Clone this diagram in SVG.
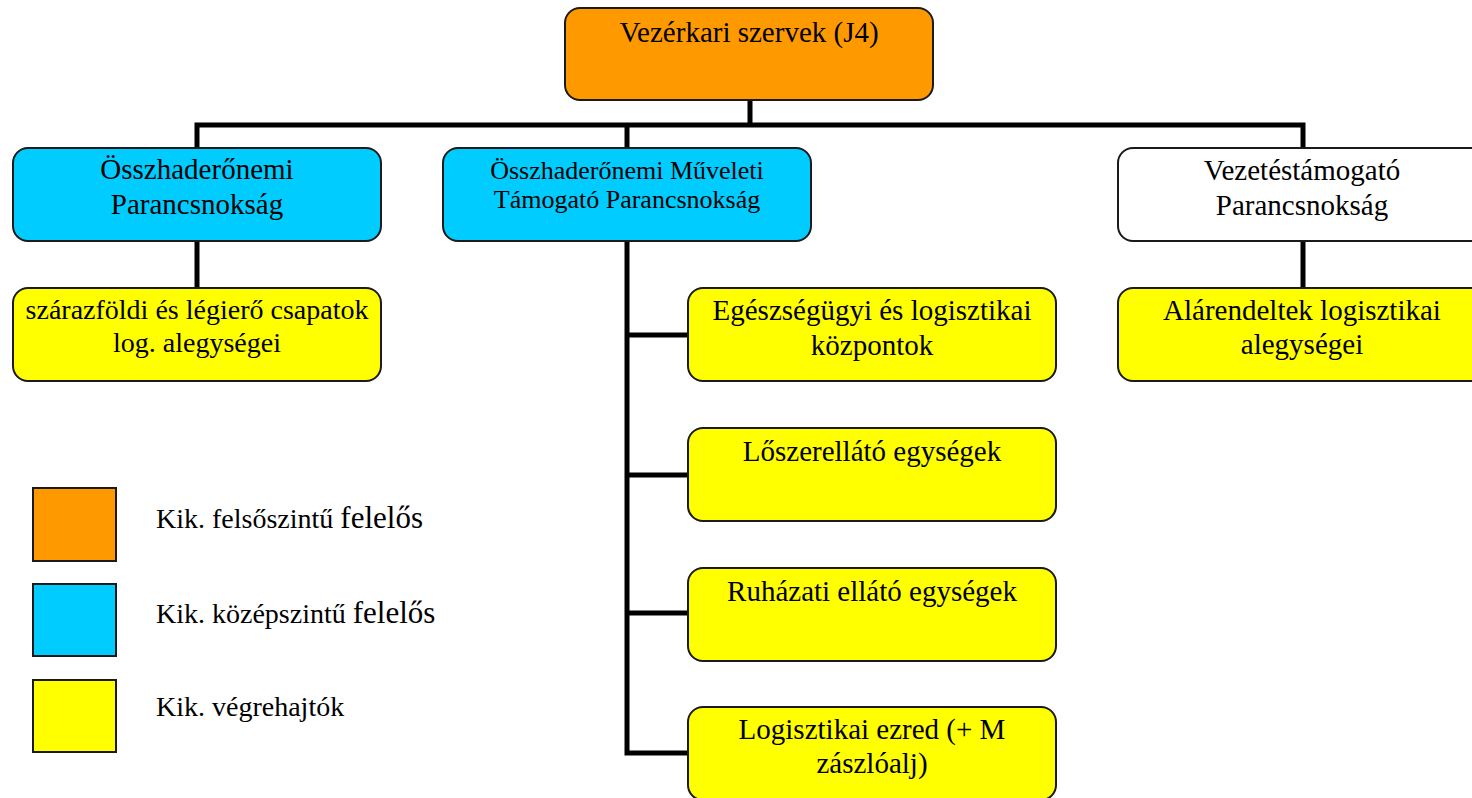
<svg xmlns="http://www.w3.org/2000/svg" width="1472" height="798" viewBox="0 0 1472 798">
<style>
.box{stroke:#1a1a1a;stroke-width:2}
.o{fill:#FF9900}.b{fill:#00CCFF}.y{fill:#FFFF00}.w{fill:#FFFFFF}
text{font-family:"Liberation Serif","Times New Roman",serif;fill:#000;font-size:29px;text-anchor:middle}
.sm{font-size:26px}
.lg{text-anchor:start;font-size:28px}
.con{fill:none;stroke:#000;stroke-width:5;stroke-linejoin:miter}
</style>
<rect width="1472" height="798" fill="#fff"/>
<g id="connectors">
<path class="con" d="M750,100 V125 M197,148 V125 H1303 V148 M627,125 V148"/>
<path class="con" d="M197,241 V288"/>
<path class="con" d="M1303,241 V288"/>
<path class="con" d="M627,241 V753 H688 M627,335 H688 M627,475 H688 M627,613 H688"/>
</g>
<g id="n_j4">
<rect class="box o" x="565" y="8" width="368" height="92" rx="15"/>
<text x="749" y="42">Vezérkari szervek (J4)</text>
</g>
<g id="n_ossz">
<rect class="box b" x="13" y="148" width="368" height="93" rx="15"/>
<text x="197" y="179">Összhaderőnemi</text>
<text x="197" y="214">Parancsnokság</text>
</g>
<g id="n_mtp">
<rect class="box b" x="443" y="148" width="368" height="93" rx="15"/>
<text class="sm" x="627" y="179">Összhaderőnemi Műveleti</text>
<text class="sm" x="627" y="208">Támogató Parancsnokság</text>
</g>
<g id="n_vtp">
<rect class="box w" x="1118" y="148" width="368" height="93" rx="15"/>
<text x="1302" y="180">Vezetéstámogató</text>
<text x="1302" y="215">Parancsnokság</text>
</g>
<g id="n_szaraz">
<rect class="box y" x="13" y="288" width="368" height="93" rx="15"/>
<text x="197" y="319" style="font-size:28px">szárazföldi és légierő csapatok</text>
<text x="197" y="352" style="font-size:28px">log. alegységei</text>
</g>
<g id="n_alar">
<rect class="box y" x="1118" y="288" width="368" height="93" rx="15"/>
<text x="1302" y="320">Alárendeltek logisztikai</text>
<text x="1302" y="354">alegységei</text>
</g>
<g id="n_egesz">
<rect class="box y" x="688" y="288" width="368" height="93" rx="15"/>
<text x="872" y="320">Egészségügyi és logisztikai</text>
<text x="872" y="355">központok</text>
</g>
<g id="n_loszer">
<rect class="box y" x="688" y="428" width="368" height="93" rx="15"/>
<text x="872" y="461">Lőszerellátó egységek</text>
</g>
<g id="n_ruha">
<rect class="box y" x="688" y="568" width="368" height="93" rx="15"/>
<text x="872" y="601">Ruházati ellátó egységek</text>
</g>
<g id="n_ezred">
<rect class="box y" x="688" y="707" width="368" height="93" rx="15"/>
<text x="872" y="739">Logisztikai ezred (+ M</text>
<text x="872" y="773">zászlóalj)</text>
</g>
<g id="legend">
<rect class="box o" x="33" y="488" width="83" height="73"/>
<rect class="box b" x="33" y="584" width="83" height="72"/>
<rect class="box y" x="33" y="680" width="83" height="72"/>
<text class="lg" x="156" y="528">Kik. felsőszintű <tspan style="font-size:31px">felelős</tspan></text>
<text class="lg" x="156" y="623">Kik. középszintű <tspan style="font-size:31px">felelős</tspan></text>
<text class="lg" x="156" y="716">Kik. végrehajtók</text>
</g>
</svg>
